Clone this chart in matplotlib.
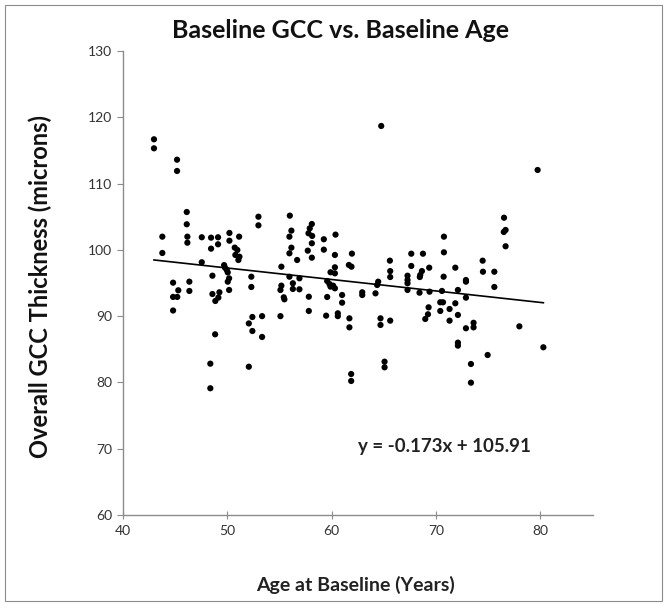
import matplotlib
matplotlib.use("Agg")
import matplotlib.pyplot as plt
from matplotlib.patches import Rectangle
import numpy as np

plt.rcParams['font.family'] = ['Lato', 'DejaVu Sans']

age = [
    42.97, 42.97, 45.18, 45.18, 46.11, 46.11, 52.98, 52.98, 43.77, 46.17,
    46.17, 47.55, 48.44, 49.11, 49.11, 50.20, 50.20, 51.13, 48.44, 50.71,
    50.96, 50.77, 51.16, 51.06, 43.77, 47.55, 49.69, 49.78, 49.95, 50.04,
    50.17, 50.04, 50.17, 48.57, 52.30, 52.30, 44.80, 46.36, 45.30, 46.36,
    44.80, 45.20, 44.80, 48.57, 49.24, 49.14, 48.85, 48.83, 52.40, 53.33,
    52.06, 52.40, 53.33, 48.37, 52.06, 48.37,
    55.99, 56.14, 55.95, 58.10, 57.90, 57.78, 58.13, 59.25, 60.37, 58.10,
    56.14, 55.95, 57.71, 59.25, 56.69, 58.10, 60.31, 61.94, 55.18, 60.31,
    61.65, 61.90, 60.31, 59.89, 55.95, 56.91, 56.28, 55.18, 55.09, 56.28,
    56.91, 59.57, 59.79, 60.14, 60.31, 59.89, 55.41, 55.47, 57.81, 59.57,
    61.00, 61.00, 62.93, 62.93, 64.20, 64.46, 64.36, 55.09, 57.81, 59.47,
    60.59, 60.59, 61.70, 61.70, 64.68, 64.68, 61.87, 61.87,
    64.75, 70.76, 70.76, 67.63, 68.75, 65.58, 67.63, 69.35, 71.85, 74.47,
    65.61, 65.61, 67.27, 67.27, 67.27, 67.27, 68.65, 68.49, 68.45, 70.73,
    72.87, 72.87, 68.42, 69.38, 70.57, 72.10, 72.87, 69.29, 69.23, 68.97,
    70.41, 70.67, 70.41, 71.30, 71.85, 72.10, 71.30, 65.61, 72.87, 73.60,
    73.60, 72.10, 72.10, 65.07, 65.07, 73.35, 73.35, 79.74, 76.52, 76.67,
    76.50, 76.67, 74.50, 75.59, 75.59, 77.99, 80.29, 74.95,
]
gcc = [
    116.68, 115.32, 113.60, 111.90, 105.71, 103.86, 105.00, 103.70, 101.99, 101.99,
    101.08, 101.90, 101.84, 101.90, 100.84, 102.55, 101.38, 101.99, 100.18, 100.34,
    99.98, 99.23, 98.97, 98.47, 99.53, 98.13, 97.70, 97.30, 96.96, 96.60,
    95.70, 95.20, 93.95, 96.10, 95.95, 94.40, 95.05, 95.20, 93.90, 93.80,
    92.90, 92.90, 90.85, 93.34, 93.60, 92.80, 92.29, 87.26, 89.87, 90.00,
    88.90, 87.76, 86.86, 82.83, 82.37, 79.12,
    105.16, 102.90, 101.99, 103.90, 103.25, 102.50, 102.10, 101.60, 102.30, 100.99,
    100.33, 99.48, 99.88, 100.03, 98.47, 98.82, 99.23, 99.43, 97.46, 97.37,
    97.72, 97.46, 96.46, 96.62, 95.95, 95.71, 94.96, 94.60, 93.95, 94.10,
    94.05, 95.30, 94.85, 94.60, 94.20, 94.45, 92.84, 92.54, 92.93, 92.89,
    93.19, 92.03, 93.60, 93.19, 93.44, 95.20, 94.70, 90.00, 90.78, 90.07,
    90.43, 90.00, 89.67, 88.31, 89.67, 88.67, 81.27, 80.22,
    118.69, 101.99, 99.63, 99.42, 99.42, 98.37, 97.57, 97.31, 97.31, 98.37,
    96.80, 95.90, 96.10, 95.45, 94.96, 93.95, 96.80, 96.21, 95.90, 95.95,
    95.45, 95.20, 93.54, 93.69, 93.80, 93.95, 92.79, 91.33, 90.28, 89.57,
    92.09, 92.09, 90.78, 91.08, 91.94, 90.18, 89.32, 89.32, 88.17, 89.00,
    88.31, 86.00, 85.55, 83.13, 82.28, 82.78, 79.96, 112.05, 104.85, 103.00,
    102.70, 100.54, 96.70, 96.70, 94.40, 88.46, 85.30, 84.14,
]

slope = -0.173
intercept = 105.91
x_ticks = [40, 50, 60, 70, 80]
y_ticks = [60, 70, 80, 90, 100, 110, 120, 130]

W, H = 669, 607
fig = plt.figure(figsize=(W / 100, H / 100), dpi=100)
fig.patch.set_facecolor('white')
fig.add_artist(Rectangle((5 / W, 1 - 601 / H), 657 / W, 596 / H,
                         transform=fig.transFigure, fill=False,
                         edgecolor='#8c8c8c', lw=0.8))

ax = fig.add_axes([123 / W, 1 - 515 / H, (592.5 - 123) / W, (515 - 51) / H])
ax.scatter(age, gcc, s=20, c='black', edgecolors='none', zorder=3)

xs = np.array([min(age), max(age)])
ax.plot(xs, slope * xs + intercept, color='black', lw=1.2, zorder=2)

ax.set_xlim(40, 85)
ax.set_ylim(60, 130)
ax.set_xticks(x_ticks)
ax.set_yticks(y_ticks)
for s in ['top', 'right']:
    ax.spines[s].set_visible(False)
for s in ['left', 'bottom']:
    ax.spines[s].set_color('#8c8c8c')
    ax.spines[s].set_linewidth(1.0)
ax.tick_params(axis='x', direction='inout', length=6, color='#8c8c8c',
               labelsize=10, labelcolor='#333333', pad=4)
ax.tick_params(axis='y', direction='out', length=4, color='#8c8c8c',
               labelsize=10, labelcolor='#333333', pad=4)

ax.text(62.5, 70.4, 'y = -0.173x + 105.91', fontsize=13.5, fontweight='bold',
        color='#222222', ha='left', va='center')

fig.text(340 / W, 1 - 31 / H, 'Baseline GCC vs. Baseline Age', fontsize=18,
         fontweight='bold', ha='center', va='center', color='#111111')
fig.text(40 / W, 1 - 287 / H, 'Overall GCC Thickness (microns)', fontsize=17,
         fontweight='bold', rotation=90, ha='center', va='center', color='#111111')
fig.text(355 / W, 1 - 585 / H, 'Age at Baseline (Years)', fontsize=14,
         fontweight='bold', ha='center', va='center', color='#222222')

fig.savefig('out.png', dpi=100)
